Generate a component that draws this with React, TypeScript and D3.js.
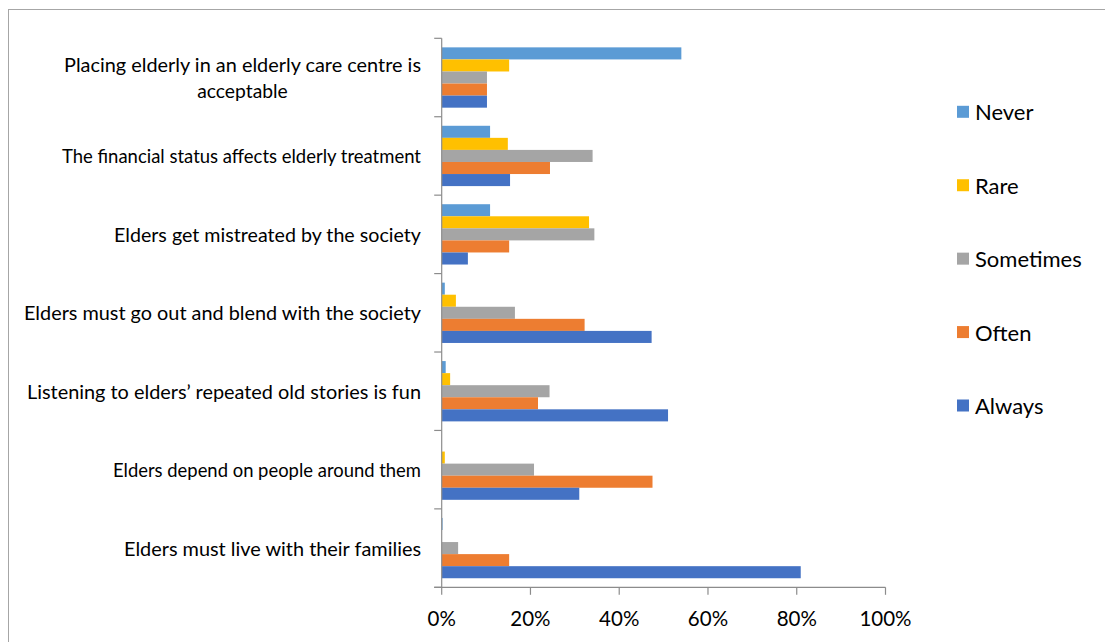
import React from "react";
import * as d3 from "d3";

const categories = [
  ["Placing elderly in an elderly care centre is", "acceptable"],
  ["The financial status affects elderly treatment"],
  ["Elders get mistreated by the society"],
  ["Elders must go out and blend with the society"],
  ["Listening to elders\u2019 repeated old stories is fun"],
  ["Elders depend on people around them"],
  ["Elders must live with their families"],
];
const seriesNames = ["Never", "Rare", "Sometimes", "Often", "Always"];
const seriesColors = ["#5B9BD5", "#FFC000", "#A5A5A5", "#ED7D31", "#4472C4"];
const never = [0.54, 0.109, 0.109, 0.007, 0.009, 0, 0.002];
const rare = [0.152, 0.149, 0.332, 0.032, 0.019, 0.007, 0];
const sometimes = [0.102, 0.34, 0.344, 0.165, 0.243, 0.208, 0.037];
const often = [0.102, 0.244, 0.152, 0.322, 0.217, 0.475, 0.152];
const always = [0.102, 0.154, 0.059, 0.473, 0.51, 0.31, 0.809];
const xTicks = [0, 0.2, 0.4, 0.6, 0.8, 1.0];

const seriesValues = [never, rare, sometimes, often, always];

// rendered label widths (styling, to mimic the original Calibri metrics); 0 = natural width
const labelWidths = [[357, 0], [359], [307], [397], [394], [308], [297]];

export default function App() {
  const W = 1105, H = 642;
  const left = 441.7, right = 885.5, top = 38.3, bottom = 587.3;
  const labelRight = 421;
  const x = d3.scaleLinear().domain([0, 1]).range([left, right]);
  const catIdx = categories.map((_, i) => String(i));
  const y0 = d3.scaleBand().domain(catIdx).range([top, bottom]);
  const bw = y0.bandwidth();
  const pad = bw * 0.1155;
  const y1 = d3.scaleBand().domain(seriesNames).range([pad, bw - pad]);
  const axisColor = "#8c8c8c";
  const font = "Lato, 'Noto Sans', sans-serif";
  const legendY = d3.scalePoint().domain(seriesNames).range([111.8, 405.5]);
  const pct = d3.format(".0%");

  return (
    <svg width={W} height={H} style={{ position: "absolute", left: 0, top: 0, background: "#fff" }}>
      <rect x={8.5} y={9.5} width={W} height={H} fill="#fff" stroke="#a6a6a6" strokeWidth={1} />
      {categories.map((lines, ci) => {
        const gy = y0(String(ci))!;
        const widths = labelWidths[ci];
        const maxW = Math.max(...widths);
        const cx = labelRight - maxW / 2;
        return (
          <g key={ci}>
            {seriesNames.map((s, si) => {
              const v = seriesValues[si][ci];
              return (
                <rect
                  key={s}
                  x={x(0)}
                  y={gy + y1(s)!}
                  width={x(v) - x(0)}
                  height={y1.bandwidth()}
                  fill={seriesColors[si]}
                />
              );
            })}
            {lines.map((t, li) => (
              <text
                key={li}
                x={cx}
                y={gy + bw / 2 + (li - (lines.length - 1) / 2) * 25.5}
                textAnchor="middle"
                dominantBaseline="central"
                fontFamily={font}
                fontSize={19.3}
                textLength={widths[li] ? widths[li] : undefined}
                lengthAdjust={widths[li] ? "spacingAndGlyphs" : undefined}
                fill="#000"
              >
                {t}
              </text>
            ))}
          </g>
        );
      })}
      <line x1={left} x2={left} y1={top} y2={bottom} stroke={axisColor} strokeWidth={1.2} />
      {d3.range(categories.length + 1).map((i) => {
        const yy = top + i * bw;
        return <line key={i} x1={left - 7.5} x2={left} y1={yy} y2={yy} stroke={axisColor} strokeWidth={1.2} />;
      })}
      <line x1={left - 7.5} x2={right} y1={bottom} y2={bottom} stroke={axisColor} strokeWidth={1.2} />
      {xTicks.map((t) => (
        <g key={t}>
          <line x1={x(t)} x2={x(t)} y1={bottom} y2={bottom + 7.5} stroke={axisColor} strokeWidth={1.2} />
          <text x={x(t)} y={618} textAnchor="middle" dominantBaseline="central" fontFamily={font} fontSize={20.5} fill="#000">
            {pct(t)}
          </text>
        </g>
      ))}
      {seriesNames.map((s, si) => (
        <g key={s}>
          <rect x={957} y={legendY(s)! - 6} width={12} height={12} fill={seriesColors[si]} />
          <text x={975} y={legendY(s)!} dominantBaseline="central" fontFamily={font} fontSize={22} fill="#000">
            {s}
          </text>
        </g>
      ))}
    </svg>
  );
}
